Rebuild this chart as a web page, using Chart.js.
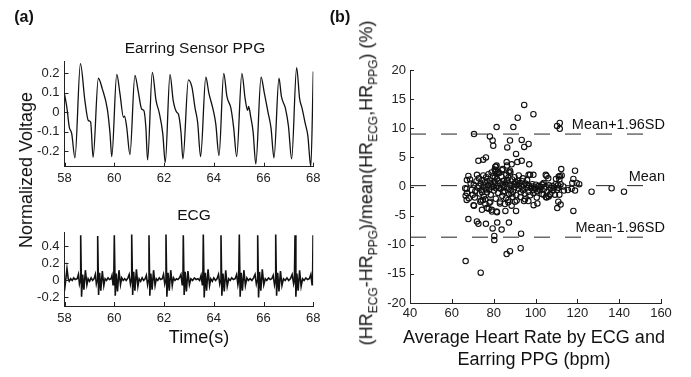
<!DOCTYPE html>
<html>
<head>
<meta charset="utf-8">
<script src="https://cdn.jsdelivr.net/npm/chart.js@4.4.1/dist/chart.umd.min.js"></script>
<style>
  body { margin: 0; background: #fff; width: 691px; height: 377px; position: relative; overflow: hidden;
         font-family: "Liberation Sans", Arial, sans-serif; color: #111; }
  canvas { position: absolute; left: 0; top: 0; }
  .t { position: absolute; white-space: nowrap; transform: translate(-50%, -50%); line-height: 1; }
  .rot { transform: translate(-50%, -50%) rotate(-90deg); }
  sub { font-size: 12px; }
</style>
</head>
<body>
<canvas id="ppg" width="691" height="377"></canvas>
<canvas id="ecg" width="691" height="377"></canvas>
<canvas id="ba" width="691" height="377"></canvas>

<div class="t" style="left:24px;top:17px;font-size:16px;font-weight:bold">(a)</div>
<div class="t" style="left:340px;top:17px;font-size:16px;font-weight:bold">(b)</div>
<div class="t" style="left:195px;top:48px;font-size:15.5px">Earring Sensor PPG</div>
<div class="t" style="left:194px;top:215px;font-size:15.5px">ECG</div>
<div class="t rot" style="left:26px;top:170px;font-size:18px">Normalized Voltage</div>
<div class="t" style="left:199px;top:337px;font-size:18px">Time(s)</div>
<div class="t" style="left:534px;top:337px;font-size:18px">Average Heart Rate by ECG and</div>
<div class="t" style="left:534px;top:359px;font-size:18px">Earring PPG (bpm)</div>
<div class="t rot" style="left:368px;top:183px;font-size:18px">(HR<sub>ECG</sub>-HR<sub>PPG</sub>)/mean(HR<sub>ECG</sub>,HR<sub>PPG</sub>) (%)</div>

<script>
// ---- data ----
const timeTicks = [58, 60, 62, 64, 66, 68];
const ppgTicks = [-0.2, -0.1, 0, 0.1, 0.2];
const ecgTicks = [-0.2, 0, 0.2, 0.4];
const hrTicks = [40, 60, 80, 100, 120, 140, 160];
const diffTicks = [-20, -15, -10, -5, 0, 5, 10, 15, 20];

// PPG trace [time s, normalized voltage]
const ppgTrace = [
  [58.00,0.095],[58.10,0.02],[58.19,-0.075],[58.29,-0.11],[58.42,-0.235],
  [58.64,0.25],[58.82,0.06],[58.96,-0.043],[59.05,-0.05],[59.15,-0.232],
  [59.36,0.175],[59.52,0.12],[59.72,0.017],[59.83,-0.11],[59.90,-0.228],
  [60.10,0.195],[60.23,0.095],[60.37,-0.026],[60.41,-0.02],[60.50,-0.077],[60.63,-0.218],
  [60.83,0.19],[60.96,0.11],[61.10,0.017],[61.19,0.009],[61.27,-0.077],[61.34,-0.245],
  [61.53,0.205],[61.68,0.06],[61.81,-0.004],[61.95,-0.11],[62.05,-0.258],
  [62.24,0.195],[62.37,0.06],[62.51,0.0],[62.58,-0.01],[62.68,-0.1],[62.76,-0.24],
  [62.98,0.167],[63.12,0.13],[63.25,0.02],[63.35,-0.05],[63.47,-0.228],
  [63.68,0.18],[63.80,0.1],[63.98,0.01],[64.08,-0.06],[64.21,-0.223],
  [64.40,0.2],[64.53,0.08],[64.69,0.02],[64.80,-0.08],[64.92,-0.228],
  [65.13,0.2],[65.26,0.07],[65.36,0.01],[65.40,0.03],[65.48,-0.02],[65.58,-0.1],[65.69,-0.266],
  [65.90,0.18],[66.03,0.1],[66.18,0.0],[66.30,-0.08],[66.42,-0.235],
  [66.62,0.175],[66.72,0.08],[66.88,0.02],[67.00,-0.07],[67.13,-0.24],
  [67.33,0.23],[67.45,0.07],[67.55,0.02],[67.68,-0.06],[67.78,-0.12],[67.90,-0.28],
  [68.00,0.21]
];

// ECG trace [time s, normalized voltage]
const ecgTrace = [
  [58.00,-0.12],[58.04,-0.02],[58.10,0.14],[58.15,0.02],[58.19,-0.01],[58.25,0.02],[58.31,0.00],[58.37,0.03],[58.43,0.01],[58.51,0.02],[58.56,0.07],[58.60,-0.04],[58.63,0.00],
  [58.651,0.53],[58.686,-0.19],[58.73,0.07],[58.78,-0.11],[58.84,0.12],[58.90,-0.05],[58.95,0.02],[59.01,-0.01],[59.07,0.03],[59.13,0.00],[59.19,0.02],[59.24,0.07],[59.28,-0.04],[59.31,0.00],
  [59.334,0.52],[59.37,-0.17],[59.41,0.09],[59.46,-0.12],[59.52,0.11],[59.58,-0.06],[59.63,0.02],[59.69,0.00],[59.75,0.03],[59.81,0.01],[59.87,0.02],[59.91,0.06],[59.95,-0.05],[59.98,0.00],
  [60.002,0.53],[60.04,-0.18],[60.08,0.08],[60.13,-0.13],[60.19,0.12],[60.25,-0.05],[60.30,0.03],[60.36,0.00],[60.42,0.02],[60.48,0.00],[60.55,0.03],[60.60,0.07],[60.65,-0.04],[60.68,0.01],
  [60.701,0.54],[60.74,-0.17],[60.78,0.10],[60.83,-0.12],[60.89,0.13],[60.95,-0.07],[61.00,0.02],[61.06,-0.01],[61.12,0.03],[61.18,0.00],[61.24,0.02],[61.29,0.06],[61.34,-0.05],[61.37,0.00],
  [61.396,0.53],[61.43,-0.18],[61.47,0.08],[61.52,-0.11],[61.58,0.12],[61.64,-0.06],[61.69,0.02],[61.75,0.00],[61.81,0.03],[61.87,0.01],[61.93,0.02],[61.98,0.07],[62.03,-0.04],[62.06,0.00],
  [62.079,0.54],[62.115,-0.19],[62.16,0.09],[62.21,-0.12],[62.27,0.12],[62.33,-0.06],[62.38,0.03],[62.44,0.00],[62.50,0.02],[62.56,0.01],[62.62,0.03],[62.68,0.07],[62.73,-0.05],[62.76,0.00],
  [62.775,0.53],[62.81,-0.17],[62.85,0.10],[62.90,-0.13],[62.96,0.11],[63.02,-0.05],[63.08,0.02],[63.15,0.00],[63.22,0.03],[63.29,0.01],[63.36,0.02],[63.43,0.00],[63.49,0.06],[63.54,-0.05],[63.56,0.00],
  [63.579,0.54],[63.615,-0.20],[63.66,0.09],[63.71,-0.12],[63.77,0.13],[63.83,-0.06],[63.88,0.02],[63.94,-0.01],[64.00,0.03],[64.07,0.00],[64.13,0.02],[64.19,0.07],[64.24,-0.04],[64.27,0.00],
  [64.29,0.53],[64.325,-0.18],[64.37,0.08],[64.42,-0.13],[64.48,0.12],[64.54,-0.07],[64.60,0.02],[64.66,0.00],[64.72,0.03],[64.79,0.01],[64.86,0.02],[64.92,0.07],[64.97,-0.05],[65.00,0.00],
  [65.026,0.54],[65.06,-0.19],[65.10,0.09],[65.15,-0.12],[65.21,0.12],[65.27,-0.06],[65.33,0.03],[65.39,0.00],[65.46,0.02],[65.53,0.00],[65.60,0.03],[65.66,0.07],[65.71,-0.04],[65.74,0.00],
  [65.765,0.53],[65.80,-0.20],[65.84,0.10],[65.89,-0.12],[65.95,0.13],[66.01,-0.05],[66.07,0.02],[66.13,0.00],[66.20,0.03],[66.27,0.01],[66.33,0.02],[66.39,0.06],[66.44,-0.05],[66.47,0.00],
  [66.489,0.54],[66.525,-0.18],[66.57,0.09],[66.62,-0.13],[66.68,0.11],[66.74,-0.06],[66.80,0.02],[66.87,0.00],[66.94,0.03],[67.01,0.00],[67.08,0.02],[67.15,0.07],[67.21,-0.04],[67.24,0.00],
  [67.265,0.53],[67.30,-0.19],[67.34,0.08],[67.39,-0.12],[67.45,0.12],[67.51,-0.07],[67.57,0.02],[67.63,0.00],[67.70,0.03],[67.77,0.01],[67.84,0.02],[67.90,0.07],[67.95,-0.05],[67.97,0.00],
  [67.99,0.53]
];

// Bland-Altman points [mean HR bpm, difference %]
const baPoints = [
  [70.6,9.0],[81.4,10.2],[78.2,8.6],[79.5,7.9],[79.8,7.0],[89.4,10.2],[94.6,14.0],[91.5,11.8],[99.0,12.4],
  [87.8,7.9],[86.5,6.7],[93.4,8.0],[94.6,6.8],[96.7,7.3],[90.7,5.6],[72.7,4.4],[75.0,4.6],[76.3,5.0],
  [86.2,4.2],[88.6,3.8],[91.3,4.2],[93.4,4.4],[97.0,3.8],[84.3,3.0],[81.4,3.6],[87.8,2.7],[104.9,2.0],
  [97.4,2.0],[99.0,2.0],[67.9,1.8],[68.7,1.2],[110.3,10.4],[111.6,10.9],[111.6,9.9],[112.3,3.0],[118.9,2.7],
  [105.3,1.8],[111.7,1.8],[109.8,1.3],[118.1,1.3],[106.1,1.4],[112.5,1.9],[111.4,1.2],[117.6,0.6],[119.7,0.6],
  [120.9,0.4],[117.3,-0.4],[118.9,-0.7],[126.8,-0.9],[136.4,-0.3],[142.3,-0.9],[112.0,0.4],[113.3,0.0],
  [110.9,-0.2],[113.6,-0.7],[108.5,-0.7],[106.9,-1.4],[109.3,-1.4],[105.0,-1.8],[103.0,-1.3],[100.6,-1.9],
  [100.9,-2.9],[110.9,-2.6],[112.0,-3.1],[110.4,-3.7],[118.1,-4.2],[98.2,0.0],[99.0,-0.6],[99.8,-0.4],[101.3,0.0],
  [66.6,-12.8],[73.8,-14.8],[67.9,-5.6],[72.7,-6.4],[76.3,-6.4],[79.5,-7.2],[80.3,-8.5],[80.3,-9.2],[81.7,-6.2],
  [83.8,-7.4],[87.3,-6.2],[86.2,-11.6],[87.8,-11.1],[92.9,-10.6],[93.1,-8.1],[90.7,-4.2],[81.4,-4.3],[79.1,-4.0],
  [76.7,-3.7],[70.6,-3.3],[74.8,-2.3],[83.0,-2.9],[85.4,-3.0],[87.0,-2.7],[88.6,-3.3],[90.2,-2.6],[94.5,-2.5],
  [96.6,-2.5],[105.3,-1.9],[66.6,-1.6],[67.1,-2.3],[67.1,-0.4],[80.8,3.4],[86.4,3.6],[87.2,2.5],[111.1,1.7],
  [115.5,-0.6],[110.7,0.2],[67.2,1.1],[66.4,-0.3],[67.2,-1.1],[68.1,-2.0],[70.4,-3.2],[72.0,-6.0],[73.6,-2.6],
  [76.0,-3.0],[78.4,-2.6],[74.4,-4.0],[77.6,-3.8],[79.2,-4.3],[81.6,-4.4],[85.6,-4.2],[99.1,-3.2],[103.9,-1.4],
  [106.3,-1.7],[107.1,-1.3],[110.3,-0.6],[111.4,-1.4],[101.5,-0.3],[103.1,0.3],[96.7,2.0],[103.9,0.6],
  [80.5,2.9],[81.0,3.4],[81.3,2.2],[82.0,2.5],
  [70.5,0.3],[71.2,-0.8],[71.8,0.9],[72.4,-0.2],[72.9,1.4],[73.3,-1.2],[73.8,0.5],[74.2,-0.6],[74.6,1.1],
  [75.0,0.0],[75.3,-1.7],[75.7,0.7],[76.1,-0.3],[76.4,1.6],[76.8,-1.0],[77.2,0.2],[77.5,2.1],[77.9,-0.5],
  [78.2,1.0],[78.6,-1.4],[79.0,0.4],[79.3,-0.1],[79.7,1.8],[80.1,-0.7],[80.4,0.8],[80.8,2.6],[81.1,-0.3],
  [81.5,1.3],[81.9,0.1],[82.2,-1.1],[82.6,2.3],[83.0,0.6],[83.3,-0.4],[83.7,1.7],[84.1,-1.6],[84.4,0.2],
  [84.8,1.0],[85.2,-0.8],[85.5,0.5],[85.9,-2.0],[86.3,0.9],[86.6,-0.2],[87.0,1.5],[87.4,-1.3],[87.7,0.3],
  [88.1,-0.6],[88.5,0.1],[88.8,1.2],[89.2,-0.9],[89.6,0.4],[90.0,-0.1],[90.4,0.8],[90.8,-1.5],[91.2,0.2],
  [91.6,1.0],[92.0,-0.4],[92.4,0.6],[92.8,-1.8],[93.2,0.0],[93.6,0.9],[94.0,-0.6],[94.4,0.3],[94.8,-1.2],
  [95.2,0.5],[95.7,-0.2],[96.1,0.2],[96.6,-0.9],[97.0,0.1],[97.5,-1.5],[98.0,-0.3],[98.5,0.4],[99.0,-1.1],
  [99.5,-0.2],[100.2,0.3],[100.8,-0.8],[101.5,0.1],[102.1,-0.6],[102.8,-0.1],[103.5,0.4],[104.2,-0.4],
  [104.9,0.0],[105.6,-0.9],[106.4,0.2],[107.2,-0.3],[108.0,0.1],[108.9,-0.2],[109.6,0.4],
  [71.0,-1.9],[72.0,2.0],[73.0,0.1],[74.0,-2.4],[75.0,1.9],[76.0,-2.2],[77.0,0.9],[78.0,-2.8],[79.0,2.4],
  [80.0,0.0],[81.0,-2.1],[82.0,1.0],[83.0,-2.6],[84.0,2.8],[85.0,-0.1],[86.0,2.0],[87.0,-2.3],[88.0,2.4],
  [89.0,-1.8],[90.0,1.6],[91.0,-2.4],[92.0,1.9],[93.0,-1.0],[94.0,1.4],[95.0,-2.2],[96.0,1.1],[69.5,-0.6],
  [69.0,0.5],[70.0,-1.4],[82.5,-0.2],[80.5,1.5],[78.5,0.6],[76.5,-0.5],[74.5,-1.0],[86.5,1.1],[88.5,-1.2],
  [90.5,0.5],[84.5,-1.0]
];

// agreement lines
const limitNames = ['Mean+1.96SD', 'Mean', 'Mean-1.96SD'];
const limitValues = [9.0, 0.15, -8.7];
const limitSpan = [40, 153];

const FONT = 'Liberation Sans';

// matlab style inward tick marks
const inTicks = {
  id: 'inTicks',
  afterDraw(chart) {
    const ctx = chart.ctx, a = chart.chartArea;
    const xs = chart.scales.x, ys = chart.scales.y;
    ctx.save();
    ctx.strokeStyle = '#222';
    ctx.lineWidth = 1;
    xs.ticks.forEach(t => {
      const px = Math.round(xs.getPixelForValue(t.value)) + 0.5;
      ctx.beginPath(); ctx.moveTo(px, a.bottom); ctx.lineTo(px, a.bottom - 4); ctx.stroke();
    });
    ys.ticks.forEach(t => {
      const py = Math.round(ys.getPixelForValue(t.value)) + 0.5;
      ctx.beginPath(); ctx.moveTo(a.left, py); ctx.lineTo(a.left + 4, py); ctx.stroke();
    });
    ctx.restore();
  }
};

function axis(min, max, ticks, isX, size, pad) {
  return {
    type: 'linear', min: min, max: max,
    afterBuildTicks: s => { s.ticks = ticks.map(v => ({ value: v })); },
    afterFit: s => { if (isX) s.height = size; else s.width = size; },
    grid: { display: false, drawTicks: false },
    border: { display: true, color: '#222', width: 1 },
    ticks: {
      color: '#222', padding: pad, autoSkip: false, maxRotation: 0,
      font: { family: FONT, size: 13 },
      callback: v => String(v)
    }
  };
}

function baseOpts(padding, xScale, yScale) {
  return {
    responsive: false, animation: false, events: [],
    layout: { padding: padding },
    plugins: { legend: { display: false }, tooltip: { enabled: false } },
    scales: { x: xScale, y: yScale }
  };
}

// PPG
new Chart(document.getElementById('ppg'), {
  type: 'scatter',
  data: { datasets: [{
    data: ppgTrace.map(p => ({ x: p[0], y: p[1] })),
    showLine: true, pointRadius: 0, borderColor: '#111', borderWidth: 1.3,
    cubicInterpolationMode: 'monotone'
  }] },
  options: baseOpts({ left: 24.5, right: 377.7, top: 61.7, bottom: 185.3 },
    axis(58, 68, timeTicks, true, 25, 4),
    axis(-0.28, 0.26, ppgTicks, false, 40, 5)),
  plugins: [inTicks]
});

// ECG
new Chart(document.getElementById('ecg'), {
  type: 'scatter',
  data: { datasets: [{
    data: ecgTrace.map(p => ({ x: p[0], y: p[1] })),
    showLine: true, pointRadius: 0, borderColor: '#111', borderWidth: 1.6
  }] },
  options: baseOpts({ left: 24.5, right: 377.7, top: 232.7, bottom: 46 },
    axis(58, 68, timeTicks, true, 25, 5),
    axis(-0.3, 0.56, ecgTicks, false, 40, 5)),
  plugins: [inTicks]
});

// Bland-Altman
const limitSets = limitValues.map(v => ({
  data: [{ x: limitSpan[0], y: v }, { x: limitSpan[1], y: v }],
  showLine: true, pointRadius: 0, borderColor: '#222', borderWidth: 1, borderDash: [16, 15]
}));

const limitLabels = {
  id: 'limitLabels',
  afterDraw(chart) {
    const ctx = chart.ctx, xs = chart.scales.x, ys = chart.scales.y;
    ctx.save();
    ctx.fillStyle = '#111';
    ctx.font = '14.5px "' + FONT + '"';
    ctx.textAlign = 'right';
    ctx.textBaseline = 'middle';
    limitValues.forEach((v, i) => {
      ctx.fillText(limitNames[i], xs.getPixelForValue(161.9), ys.getPixelForValue(v) - 9);
    });
    ctx.restore();
  }
};

new Chart(document.getElementById('ba'), {
  type: 'scatter',
  data: { datasets: limitSets.concat([{
    data: baPoints.map(p => ({ x: p[0], y: p[1] })),
    pointRadius: 2.7, borderWidth: 1.1, borderColor: '#111', backgroundColor: 'rgba(0,0,0,0)'
  }]) },
  options: baseOpts({ left: 370, right: 30, top: 70, bottom: 49 },
    axis(40, 160, hrTicks, true, 25, 3),
    axis(-20, 20, diffTicks, false, 40, 4)),
  plugins: [inTicks, limitLabels]
});
</script>
</body>
</html>
